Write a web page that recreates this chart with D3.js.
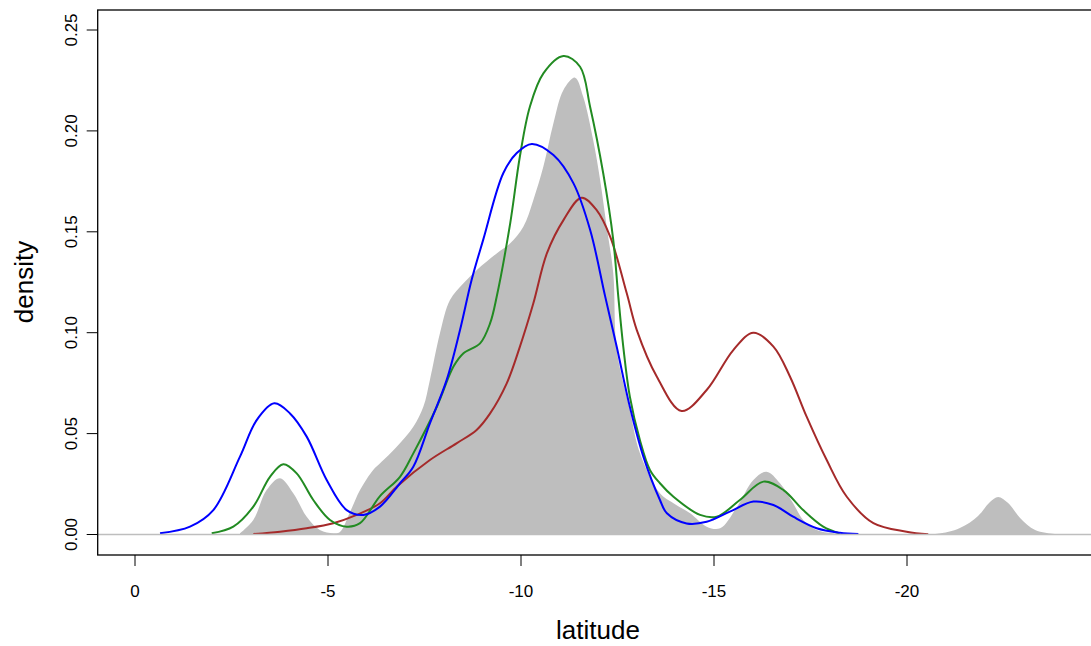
<html>
<head>
  <meta charset="utf-8">
  <script src="https://d3js.org/d3.v7.min.js"></script>
  <style>
    body { margin: 0; background: #fff; }
    text { font-family: "Liberation Sans", Arial, sans-serif; fill: #000; }
  </style>
</head>
<body>
<script>
  // density estimates: [latitude, density]
  const allLat = [
    [-2.72, 0.0006], [-3.065, 0.0072], [-3.41, 0.022], [-3.756, 0.0279], [-4.10, 0.0204],
    [-4.448, 0.0088], [-4.79, 0.0022], [-5.137, 0.0006], [-5.31, 0.0012], [-5.57, 0.0111],
    [-5.83, 0.022], [-6.17, 0.032], [-6.35, 0.0353], [-6.78, 0.0435], [-7.21, 0.0534],
    [-7.47, 0.0633], [-7.64, 0.0766], [-7.90, 0.0997], [-8.16, 0.1162], [-8.51, 0.1245],
    [-8.85, 0.131], [-9.37, 0.1393], [-9.72, 0.1443], [-10.06, 0.1525], [-10.32, 0.1658],
    [-10.58, 0.1823], [-10.84, 0.2038], [-11.10, 0.2203], [-11.40, 0.2264], [-11.61, 0.217],
    [-11.87, 0.1955], [-12.05, 0.1757], [-12.22, 0.1525], [-12.39, 0.1294], [-12.48, 0.0914],
    [-12.82, 0.0617], [-13.08, 0.0404], [-13.60, 0.0204], [-13.95, 0.0155], [-14.38, 0.0105],
    [-14.81, 0.0039], [-15.16, 0.0031], [-15.60, 0.0138], [-16.02, 0.027], [-16.36, 0.0311],
    [-16.71, 0.0254], [-17.05, 0.0155], [-17.31, 0.0072], [-17.66, 0.0022], [-18.09, 0.0006],
    [-19.04, 0.0001], [-20.73, 0.0002], [-21.37, 0.0032], [-21.84, 0.0092], [-22.15, 0.0161],
    [-22.36, 0.0186], [-22.62, 0.0156], [-22.93, 0.0082], [-23.32, 0.0022], [-23.83, 0.0002],
    [-23.96, 0]
  ];

  const blueLat = [
    [-0.648, 0.0006], [-1.425, 0.0039], [-2.029, 0.0121], [-2.72, 0.0386], [-3.153, 0.0567],
    [-3.609, 0.065], [-4.016, 0.060], [-4.448, 0.0485], [-4.966, 0.027], [-5.484, 0.0121],
    [-5.915, 0.0097], [-6.347, 0.0138], [-6.865, 0.0254], [-7.21, 0.0336], [-7.64, 0.0551],
    [-8.075, 0.0766], [-8.42, 0.1013], [-8.72, 0.1261], [-9.02, 0.146], [-9.54, 0.179],
    [-9.89, 0.189], [-10.28, 0.1935], [-10.84, 0.188], [-11.36, 0.174], [-11.79, 0.151],
    [-12.18, 0.118], [-12.48, 0.093], [-12.82, 0.0633], [-13.17, 0.0386], [-13.60, 0.0171],
    [-13.78, 0.0105], [-14.29, 0.0055], [-14.81, 0.0063], [-15.41, 0.0113], [-16.02, 0.0163],
    [-16.54, 0.0146], [-17.05, 0.0088], [-17.66, 0.0031], [-18.26, 0.0009], [-18.74, 0.0002]
  ];

  const greenLat = [
    [-1.987, 0.0006], [-2.547, 0.0039], [-3.065, 0.0138], [-3.497, 0.0286], [-3.842, 0.0348],
    [-4.189, 0.0303], [-4.619, 0.0171], [-5.052, 0.0072], [-5.484, 0.0039], [-5.829, 0.0056],
    [-6.347, 0.019], [-6.865, 0.0286], [-7.21, 0.0402], [-7.82, 0.0633], [-8.25, 0.0832],
    [-8.51, 0.0898], [-8.94, 0.0947], [-9.20, 0.1047], [-9.37, 0.1178], [-9.72, 0.1542],
    [-9.97, 0.1872], [-10.23, 0.212], [-10.58, 0.2285], [-11.10, 0.2371], [-11.53, 0.2318],
    [-11.79, 0.212], [-12.13, 0.179], [-12.39, 0.146], [-12.52, 0.118], [-12.65, 0.093],
    [-12.82, 0.0683], [-13.08, 0.0468], [-13.34, 0.032], [-13.60, 0.0254], [-13.95, 0.0187],
    [-14.64, 0.0097], [-15.07, 0.0088], [-15.67, 0.0171], [-16.28, 0.0262], [-16.80, 0.022],
    [-17.31, 0.0121], [-17.83, 0.0039], [-18.26, 0.0005]
  ];

  const redLat = [
    [-3.065, 0.0002], [-3.756, 0.0014], [-4.448, 0.0031], [-5.137, 0.0056], [-5.744, 0.0097],
    [-6.347, 0.0155], [-6.78, 0.0237], [-7.64, 0.0369], [-8.33, 0.0452], [-8.85, 0.0518],
    [-9.20, 0.060], [-9.63, 0.0749], [-9.97, 0.093], [-10.32, 0.1146], [-10.67, 0.1393],
    [-11.10, 0.1558], [-11.57, 0.1669], [-11.96, 0.1607], [-12.31, 0.1476], [-12.74, 0.1195],
    [-13.00, 0.1013], [-13.52, 0.0782], [-14.16, 0.0612], [-14.81, 0.0716], [-15.50, 0.0914],
    [-16.02, 0.100], [-16.54, 0.0931], [-16.97, 0.0782], [-17.40, 0.0584], [-17.92, 0.0369],
    [-18.44, 0.0187], [-19.13, 0.0056], [-19.99, 0.0014], [-20.55, 0.0001]
  ];

  const xTicks = [0, -5, -10, -15, -20];
  const yTicks = [0, 0.05, 0.10, 0.15, 0.20, 0.25];

  const W = 1091, H = 646;
  const box = { left: 97.7, right: 1098, top: 10, bottom: 555 };

  const x = d3.scaleLinear().domain([0, -25]).range([135, 1100]);
  const y = d3.scaleLinear().domain([0, 0.25]).range([534.5, 30]);

  const svg = d3.select("body").append("svg")
      .attr("width", W).attr("height", H);

  svg.append("clipPath").attr("id", "plot")
    .append("rect")
      .attr("x", box.left).attr("y", box.top)
      .attr("width", box.right - box.left).attr("height", y(0) - box.top);

  const g = svg.append("g").attr("clip-path", "url(#plot)");

  const smooth = d3.curveCatmullRom.alpha(0.5);

  const area = d3.area()
      .x(d => x(d[0]))
      .y0(y(0))
      .y1(d => y(d[1]))
      .curve(smooth);

  g.append("path")
      .datum(allLat)
      .attr("d", area)
      .attr("fill", "#bebebe");

  // zero line
  svg.append("line")
      .attr("x1", box.left).attr("x2", box.right)
      .attr("y1", y(0)).attr("y2", y(0))
      .attr("stroke", "#bebebe").attr("stroke-width", 1.5);

  const line = d3.line()
      .x(d => x(d[0]))
      .y(d => y(d[1]))
      .curve(smooth);

  const series = [
    { data: redLat, color: "#a52a2a" },
    { data: greenLat, color: "#228b22" },
    { data: blueLat, color: "#0000ff" }
  ];

  g.selectAll("path.dens")
    .data(series)
    .enter().append("path")
      .attr("class", "dens")
      .attr("d", d => line(d.data))
      .attr("fill", "none")
      .attr("stroke", d => d.color)
      .attr("stroke-width", 2);

  // frame
  svg.append("rect")
      .attr("x", box.left).attr("y", box.top)
      .attr("width", box.right - box.left).attr("height", box.bottom - box.top)
      .attr("fill", "none").attr("stroke", "#000").attr("stroke-width", 1.3);

  // x axis
  const xa = svg.append("g");
  xa.selectAll("line").data(xTicks).enter().append("line")
      .attr("x1", d => x(d)).attr("x2", d => x(d))
      .attr("y1", box.bottom).attr("y2", box.bottom + 11)
      .attr("stroke", "#000");
  xa.selectAll("text").data(xTicks).enter().append("text")
      .attr("x", d => x(d)).attr("y", 597)
      .attr("text-anchor", "middle")
      .attr("font-size", 17)
      .text(d => String(d));

  // y axis
  const ya = svg.append("g");
  ya.selectAll("line").data(yTicks).enter().append("line")
      .attr("x1", box.left - 11).attr("x2", box.left)
      .attr("y1", d => y(d)).attr("y2", d => y(d))
      .attr("stroke", "#000");
  ya.selectAll("text").data(yTicks).enter().append("text")
      .attr("transform", d => `translate(77,${y(d)}) rotate(-90)`)
      .attr("text-anchor", "middle")
      .attr("font-size", 17)
      .text(d => d.toFixed(2));

  // titles
  svg.append("text")
      .attr("x", 598).attr("y", 639)
      .attr("text-anchor", "middle")
      .attr("font-size", 26)
      .text("latitude");

  svg.append("text")
      .attr("transform", "translate(33,282) rotate(-90)")
      .attr("text-anchor", "middle")
      .attr("font-size", 26)
      .text("density");
</script>
</body>
</html>
